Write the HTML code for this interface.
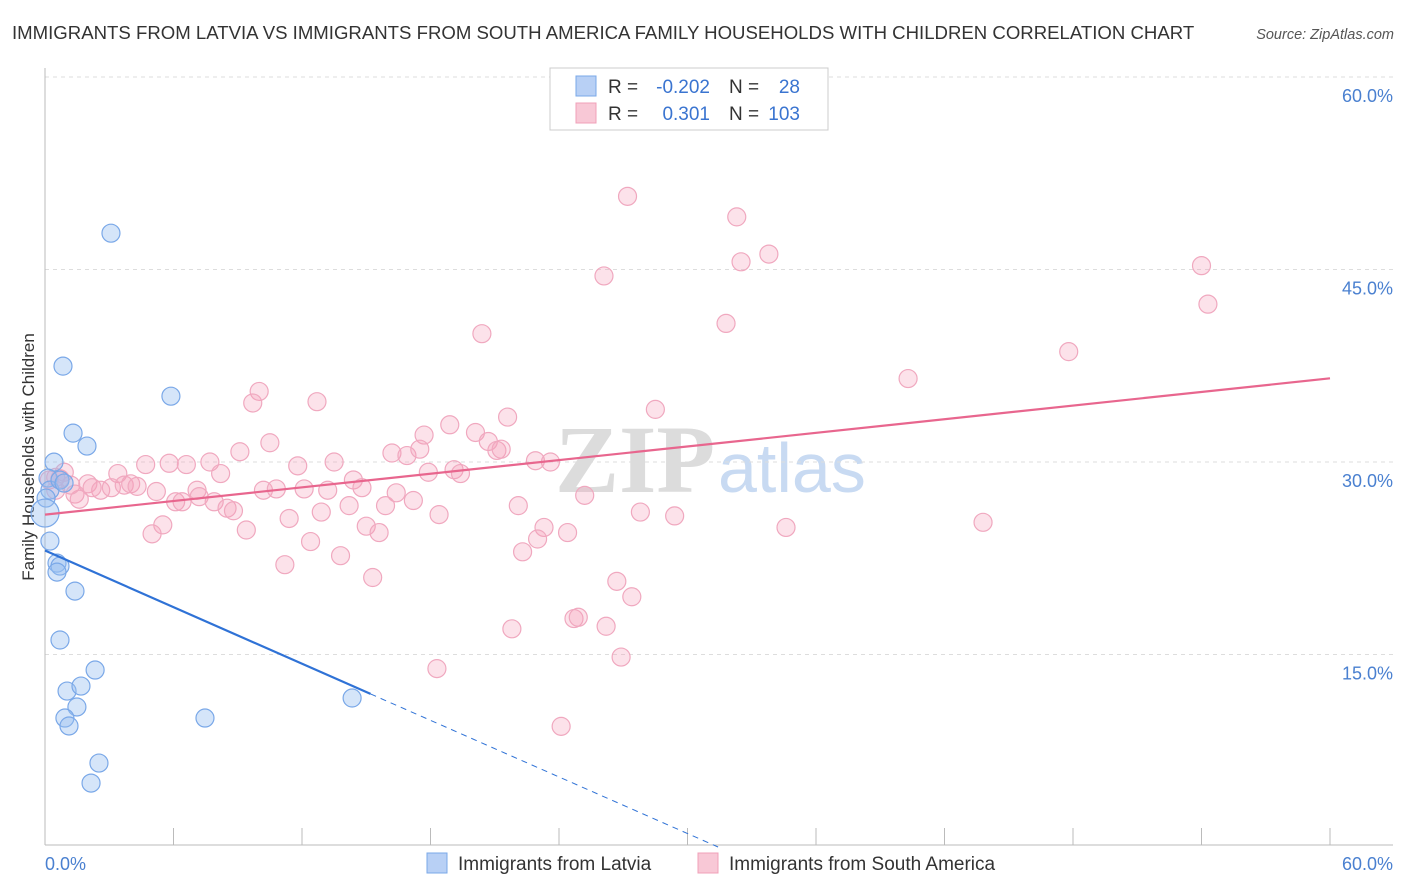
<!DOCTYPE html>
<html><head><meta charset="utf-8"><style>
body{margin:0;background:#fff;font-family:"Liberation Sans",sans-serif;}
svg{display:block}
</style></head><body>
<svg id="chart" width="1406" height="892">
<text x="12" y="39" font-size="18.6" fill="#333">IMMIGRANTS FROM LATVIA VS IMMIGRANTS FROM SOUTH AMERICA FAMILY HOUSEHOLDS WITH CHILDREN CORRELATION CHART</text>
<text x="1394" y="39" font-size="14.5" fill="#555" font-style="italic" text-anchor="end">Source: ZipAtlas.com</text>
<text transform="translate(34,457) rotate(-90)" font-size="17" fill="#333" text-anchor="middle">Family Households with Children</text>
<g><text x="555" y="492" font-size="96" font-family="Liberation Serif,serif" fill="#dcdcdc" font-weight="bold">ZIP</text><text x="718" y="492" font-size="70" fill="#c8daf2">atlas</text></g>
<g id="grid"></g><g id="marks"></g>
<g>
<rect x="550" y="68" width="278" height="62" fill="#fff" stroke="#ccc"/>
<rect x="576" y="76" width="20" height="20" fill="#b8d0f5" stroke="#7aa8e8"/>
<rect x="576" y="103" width="20" height="20" fill="#f8c8d6" stroke="#f0a0b8"/>
<text x="608" y="93" font-size="19" fill="#333">R =</text>
<text x="710" y="93" font-size="19" fill="#3a74d0" text-anchor="end">-0.202</text>
<text x="729" y="93" font-size="19" fill="#333">N =</text>
<text x="800" y="93" font-size="19" fill="#3a74d0" text-anchor="end">28</text>
<text x="608" y="120" font-size="19" fill="#333">R =</text>
<text x="710" y="120" font-size="19" fill="#3a74d0" text-anchor="end">0.301</text>
<text x="729" y="120" font-size="19" fill="#333">N =</text>
<text x="800" y="120" font-size="19" fill="#3a74d0" text-anchor="end">103</text>
</g>
<g>
<rect x="427" y="853" width="20" height="20" fill="#b8d0f5" stroke="#7aa8e8"/>
<text x="458" y="870" font-size="19" fill="#333">Immigrants from Latvia</text>
<rect x="698" y="853" width="20" height="20" fill="#f8c8d6" stroke="#f0a0b8"/>
<text x="729" y="870" font-size="19" fill="#333">Immigrants from South America</text>
</g>
</svg>
<script>
const yTicks=[15,30,45,60];
const yTickLabels=["15.0%","30.0%","45.0%","60.0%"];
const xTicks=[0,6,12,18,24,30,36,42,48,54,60];
const blueX=[3.08,0.84,5.88,1.31,1.96,0.42,0.14,0.23,0.05,0,0.23,0.56,0.7,0.56,1.4,0.7,2.34,1.03,1.68,1.49,0.93,1.12,7.47,2.52,2.15,14.34,0.7,0.89];
const blueY=[47.83,37.47,35.13,32.25,31.24,29.99,28.75,27.81,27.19,26.02,23.84,22.12,21.89,21.42,19.94,16.13,13.79,12.15,12.54,10.91,10.05,9.43,10.05,6.54,4.98,11.61,28.59,28.36];
const pinkX=[27.2,32.3,26.1,32.5,33.8,54.0,54.3,20.4,31.8,47.8,40.3,10.0,9.7,12.7,28.5,21.6,18.9,17.7,10.5,20.1,20.7,21.1,21.3,16.2,16.9,17.5,9.1,4.7,5.8,6.6,7.7,13.5,11.8,22.9,23.6,17.9,19.1,19.4,8.2,3.4,0.9,0.5,2.0,2.6,3.1,3.7,4.0,4.3,2.2,1.4,1.6,5.2,7.1,10.2,10.8,12.1,13.2,14.4,14.8,16.4,17.2,6.1,6.4,7.2,7.9,8.5,8.8,12.9,14.2,15.9,18.4,22.1,25.2,27.8,29.4,11.4,5.5,5.0,9.4,15.0,15.6,23.3,23.0,24.4,12.4,13.8,22.3,34.6,43.8,11.2,15.3,26.7,27.4,24.7,24.9,26.2,21.8,26.9,18.3,24.1,0.7,1.2,0.2,0.5];
const pinkY=[50.7,49.1,44.5,45.6,46.2,45.3,42.3,40.0,40.8,38.6,36.5,35.5,34.6,34.7,34.1,33.5,32.9,32.1,31.5,32.3,31.6,30.9,31.0,30.7,30.5,31.0,30.8,29.8,29.9,29.8,30.0,30.0,29.7,30.1,30.0,29.2,29.4,29.1,29.1,29.1,29.2,28.8,28.3,27.8,28.0,28.2,28.3,28.1,28.0,27.5,27.1,27.7,27.8,27.8,27.9,27.9,27.8,28.6,28.0,27.6,27.0,26.9,26.9,27.3,26.9,26.4,26.2,26.1,26.6,26.6,25.9,26.6,27.4,26.1,25.8,25.6,25.1,24.4,24.7,25.0,24.5,24.9,24.0,24.5,23.8,22.7,23.0,24.9,25.3,22.0,21.0,20.7,19.5,17.8,17.9,17.2,17.0,14.8,13.9,9.4,28.7,28.2,28.6,27.8];
const blueTrend=[23.1,-0.735]; // intercept, slope
const pinkTrend=[25.9,0.177];
const X=v=>45+v*1285/60, Y=v=>847-v*192.5/15;
const NS="http://www.w3.org/2000/svg";
function mk(p,t,a){const e=document.createElementNS(NS,t);for(const k in a)e.setAttribute(k,a[k]);p.appendChild(e);return e;}
const g=document.getElementById('grid'), m=document.getElementById('marks');
yTicks.forEach((t,i)=>{
 const l=mk(g,'line',{x1:45,x2:1393,y1:Y(t),y2:Y(t),stroke:'#ddd','stroke-dasharray':'4,4'});
 
 
 const tx=mk(g,'text',{x:1393,y:Y(t)+25,'font-size':18,fill:'#4a80d0','text-anchor':'end'});
 tx.textContent=yTickLabels[i];
 
 
});
mk(g,'line',{x1:45,x2:45,y1:68,y2:845,stroke:'#bbb'});
mk(g,'line',{x1:45,x2:1393,y1:845,y2:845,stroke:'#bbb'});
xTicks.forEach(t=>{
 const l=mk(g,'line',{x1:X(t),x2:X(t),y1:828,y2:845,stroke:'#bbb'});
 
 
});
let a=mk(g,'text',{x:45,y:870,'font-size':18,fill:'#4a80d0'});a.textContent="0.0%";


a=mk(g,'text',{x:1393,y:870,'font-size':18,fill:'#4a80d0','text-anchor':'end'});a.textContent="60.0%";


pinkX.forEach((x,i)=>{
 const c=mk(m,'circle',{cx:X(x),cy:Y(pinkY[i]),r:9,fill:'rgba(244,160,185,0.3)',stroke:'#f0a8bf','stroke-width':1.2});
 
 
});
blueX.forEach((x,i)=>{
 const c=mk(m,'circle',{cx:X(x),cy:Y(blueY[i]),r:x===0?14:9,fill:'rgba(150,190,240,0.4)',stroke:'#7aa8e8','stroke-width':1.2});
 
 
});
let L=mk(m,'line',{x1:X(0),y1:Y(pinkTrend[0]),x2:X(60),y2:Y(pinkTrend[0]+60*pinkTrend[1]),stroke:'#e8668e','stroke-width':2.2});


const bEnd=15.2, bZero=-blueTrend[0]/blueTrend[1];
L=mk(m,'line',{x1:X(0),y1:Y(blueTrend[0]),x2:X(bEnd),y2:Y(blueTrend[0]+bEnd*blueTrend[1]),stroke:'#2f72d6','stroke-width':2.2});


L=mk(m,'line',{x1:X(bEnd),y1:Y(blueTrend[0]+bEnd*blueTrend[1]),x2:X(bZero),y2:Y(0),stroke:'#2f72d6','stroke-width':1,'stroke-dasharray':'6,5'});


</script>
</body></html>
